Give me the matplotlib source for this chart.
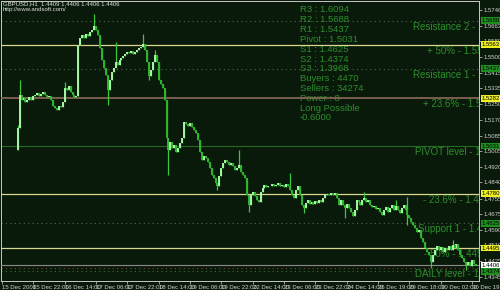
import matplotlib

matplotlib.use("Agg")
import matplotlib.pyplot as plt  # noqa: E402
import matplotlib.transforms as mtransforms  # noqa: E402
import numpy as np  # noqa: E402

# ---- data (GBPUSD H1, 15-30 Dec 2008) ----
FIRST_BAR = 8
FIRST_OPEN = 1.5010
closes = [
    1.5126, 1.5299, 1.5273, 1.5283, 1.5262, 1.5273, 1.5288, 1.5273, 1.5294, 1.5299,
    1.5309, 1.5294, 1.5304, 1.5315, 1.5299, 1.5288, 1.5294, 1.5273, 1.5241, 1.5231,
    1.5220, 1.5241, 1.5236, 1.5262, 1.5336, 1.5325, 1.5346, 1.5315, 1.5299, 1.5288,
    1.5294, 1.5561, 1.5598, 1.5614, 1.5598, 1.5619, 1.5609, 1.5630, 1.5640, 1.5661,
    1.5640, 1.5614, 1.5546, 1.5483, 1.5441, 1.5404, 1.5325, 1.5378, 1.5420, 1.5441,
    1.5472, 1.5456, 1.5483, 1.5493, 1.5504, 1.5514, 1.5525, 1.5519, 1.5530, 1.5514,
    1.5525, 1.5535, 1.5546, 1.5551, 1.5567, 1.5535, 1.5472, 1.5399, 1.5430, 1.5472,
    1.5509, 1.5472, 1.5378, 1.5357, 1.5336, 1.5273, 1.5073, 1.5010, 1.5052, 1.5021,
    1.5036, 1.5000, 1.5021, 1.5047, 1.5073, 1.5157, 1.5147, 1.5136, 1.5152, 1.5131,
    1.5115, 1.5099, 1.5063, 1.5000, 1.4958, 1.4979, 1.4968, 1.4947, 1.4916, 1.4879,
    1.4863, 1.4837, 1.4821, 1.4874, 1.4916, 1.4942, 1.4958, 1.4947, 1.4931, 1.4942,
    1.4926, 1.4905, 1.4916, 1.4931, 1.4895, 1.4879, 1.4863, 1.4774, 1.4721, 1.4774,
    1.4790, 1.4769, 1.4748, 1.4737, 1.4790, 1.4811, 1.4826, 1.4816, 1.4821, 1.4821,
    1.4832, 1.4821, 1.4826, 1.4837, 1.4821, 1.4826, 1.4816, 1.4832, 1.4821, 1.4800,
    1.4774, 1.4758, 1.4800, 1.4821, 1.4774, 1.4721, 1.4706, 1.4732, 1.4748, 1.4727,
    1.4737, 1.4727, 1.4742, 1.4732, 1.4748, 1.4737, 1.4758, 1.4774, 1.4779, 1.4774,
    1.4784, 1.4774, 1.4784, 1.4758, 1.4721, 1.4748, 1.4721, 1.4706, 1.4727, 1.4706,
    1.4685, 1.4664, 1.4695, 1.4748, 1.4737, 1.4721, 1.4748, 1.4758, 1.4737, 1.4748,
    1.4721, 1.4711, 1.4716, 1.4700, 1.4706, 1.4685, 1.4669, 1.4695, 1.4711, 1.4685,
    1.4706, 1.4721, 1.4695, 1.4716, 1.4695, 1.4679, 1.4706, 1.4721, 1.4695, 1.4669,
    1.4653, 1.4632, 1.4616, 1.4601, 1.4580, 1.4590, 1.4548, 1.4527, 1.4496, 1.4475,
    1.4459, 1.4422, 1.4459, 1.4485, 1.4506, 1.4485, 1.4501, 1.4475, 1.4496, 1.4485,
    1.4506, 1.4485, 1.4511, 1.4496, 1.4517, 1.4485, 1.4459, 1.4443, 1.4422, 1.4406,
    1.4422, 1.4401, 1.4433, 1.4412, 1.4406,
]
# wick extremes for the bars that stick out (bar index: value)
spike_high = {8: 1.5141, 9: 1.5378, 32: 1.5367, 47: 1.5724, 58: 1.5577, 72: 1.5619,
              78: 1.5535, 121: 1.5010, 147: 1.4889, 185: 1.4790, 201: 1.4748,
              207: 1.4763, 230: 1.4538}
spike_low = {54: 1.5246, 75: 1.5378, 85: 1.4879, 110: 1.4800, 126: 1.4685,
             154: 1.4679, 175: 1.4653, 207: 1.4616, 219: 1.4391, 237: 1.4380}

x_tick_bars = list(range(0, 241, 16))
x_tick_labels = ["15 Dec 2008", "15 Dec 22:00", "16 Dec 14:00", "17 Dec 06:00",
                 "17 Dec 22:00", "18 Dec 14:00", "19 Dec 06:00", "19 Dec 22:00",
                 "22 Dec 14:00", "23 Dec 06:00", "23 Dec 22:00", "24 Dec 14:00",
                 "26 Dec 19:00", "29 Dec 18:00", "30 Dec 02:00", "30 Dec 19:00"]
price_ticks = [1.5746, 1.5663, 1.5580, 1.5500, 1.5415, 1.5335, 1.5250, 1.5170, 1.5085,
               1.5005, 1.4920, 1.4840, 1.4755, 1.4675, 1.4590, 1.4510, 1.4425, 1.4345]

pivots = {"R3": 1.6094, "R2": 1.5688, "R1": 1.5437, "Pivot": 1.5031,
          "S1": 1.4625, "S2": 1.4374, "S3": 1.3968}
fib_plus50 = 1.5563
fib_plus236 = 1.5282
fib_minus236 = 1.4780
fib_minus50 = 1.4495
daily_level = 1.4388
last_price = 1.4406
buyers = 4470
sellers = 34274
power = 8
signal = "Long Possible"
signal_value = -0.6

BG = "#0a1a0a"
TXT_GREEN = "#2c8e2c"

fig = plt.figure(figsize=(5, 2.9), dpi=100, facecolor=BG)
W, H = 500, 290
ax = fig.add_axes([1 / W, 9 / H, 478 / W, 280 / H], facecolor=BG)
ax.set_xlim(-0.5, 243.5)
ax.set_ylim(1.43223, 1.57922)


def px(x, y):
    return x / W, 1 - y / H


# candles
idx = np.arange(FIRST_BAR, FIRST_BAR + len(closes))
c = np.array(closes)
o = np.concatenate([[FIRST_OPEN], c[:-1]])
hi = np.maximum(o, c)
lo = np.minimum(o, c)
for b, v in spike_high.items():
    hi[b - FIRST_BAR] = max(hi[b - FIRST_BAR], v)
for b, v in spike_low.items():
    lo[b - FIRST_BAR] = min(lo[b - FIRST_BAR], v)
up = c >= o
ax.vlines(idx, lo, hi, color="#3cc83c", lw=0.9, zorder=4)
ax.vlines(idx[up], o[up], c[up], color="#a8f5a8", lw=1.4, zorder=5)
ax.vlines(idx[~up], c[~up], o[~up], color="#2fb52f", lw=1.4, zorder=5)

# level lines
dot = (0, (1, 3))
ax.axhline(pivots["R2"], color="#4d6a4d", lw=0.8, ls=dot, zorder=2)
ax.axhline(pivots["R1"], color="#4d6a4d", lw=0.8, ls=dot, zorder=2)
ax.axhline(pivots["S1"], color="#4d6a4d", lw=0.8, ls=dot, zorder=2)
ax.axhline(pivots["S2"], color="#3d6a3d", lw=0.8, ls=dot, zorder=2)
ax.axhline(daily_level, color="#7a3a3a", lw=0.8, ls=dot, zorder=2)
ax.axhline(pivots["Pivot"], color="#266a26", lw=0.8, zorder=2)
for lvl in (fib_plus50, fib_minus236, fib_minus50):
    ax.axhline(lvl, color="#d8d890", lw=0.9, zorder=3)
ax.axhline(fib_plus236, color="#8c6a58", lw=1.2, zorder=3)
ax.axhline(last_price, color="#8a8a8a", lw=0.8, zorder=3)

# info block
info = [f"R3 : {pivots['R3']:.4f}", f"R2 : {pivots['R2']:.4f}", f"R1 : {pivots['R1']:.4f}",
        f"Pivot : {pivots['Pivot']:.4f}", f"S1 : {pivots['S1']:.4f}",
        f"S2 : {pivots['S2']:.4f}", f"S3 : {pivots['S3']:.4f}", f"Buyers : {buyers}",
        f"Sellers : {sellers}", f"Power : {power}", signal, f"{signal_value:.4f}"]
for k, s in enumerate(info):
    ax.text(*px(300, 10 + 9.8 * k), s, transform=fig.transFigure, color=TXT_GREEN,
            fontsize=6.8, family="Liberation Sans", va="center", ha="left", zorder=1)

# level labels, cut off by the price scale
line_labels = [
    (f"Resistance 2 - {pivots['R2']:.4f}", pivots["R2"], 413),
    (f"+ 50% - {fib_plus50:.4f}", fib_plus50, 427),
    (f"Resistance 1 - {pivots['R1']:.4f}", pivots["R1"], 413),
    (f"+ 23.6% - {fib_plus236:.4f}", fib_plus236, 423),
    (f"PIVOT level - {pivots['Pivot']:.4f}", pivots["Pivot"], 415),
    (f"- 23.6% - {fib_minus236:.4f}", fib_minus236, 423),
    (f"Support 1 - {pivots['S1']:.4f}", pivots["S1"], 418),
    (f"- 50% - {fib_minus50:.4f}", fib_minus50, 424),
    (f"DAILY level - {daily_level:.4f}", daily_level, 415),
]
lab_tr = mtransforms.blended_transform_factory(fig.transFigure, ax.transData)
shift = mtransforms.ScaledTranslation(0, -6 / 100, fig.dpi_scale_trans)
for s, lvl, xp in line_labels:
    ax.text(xp / W, lvl, s, transform=lab_tr + shift,
            color=TXT_GREEN, fontsize=7, family="Liberation Sans",
            va="center", ha="left", clip_on=True, zorder=3)

# price scale
ax.yaxis.tick_right()
ax.set_yticks(price_ticks)
ax.set_yticklabels([f"{p:.4f}" for p in price_ticks])
ax.tick_params(axis="y", colors="#d0d0d0", labelsize=4.3, length=2, width=0.5, pad=1)
ax.set_xticks(x_tick_bars)
ax.set_xticklabels(x_tick_labels, ha="left")
ax.tick_params(axis="x", colors="#d0d0d0", labelsize=4.3, length=2, width=0.5, pad=1)
for lab in ax.get_xticklabels() + ax.get_yticklabels():
    lab.set_family("Liberation Sans")
for sp in ax.spines.values():
    sp.set_color("#c8c8c8")
    sp.set_linewidth(0.7)

# price boxes on the scale
boxes = [(pivots["R2"], "#1f8f1f"), (fib_plus50, "#f0f020"), (pivots["R1"], "#1f8f1f"),
         (fib_plus236, "#f0f020"), (pivots["Pivot"], "#1f8f1f"), (fib_minus236, "#f0f020"),
         (pivots["S1"], "#1f8f1f"), (fib_minus50, "#f0f020"), (pivots["S2"], "#1f8f1f"),
         (last_price, "#ffffff")]
for lvl, col in boxes:
    fig.text(482 / W, lvl, f"{lvl:.4f}", transform=lab_tr, fontsize=4.3,
             family="Liberation Sans", color="#000000", va="center", ha="left",
             bbox=dict(boxstyle="square,pad=0.15", fc=col, ec="none"))

# header
fig.text(*px(3, 4), "GBPUSD,H1  1.4409 1.4406 1.4406 1.4406", fontsize=4.3,
         family="Liberation Sans", color="#e0e0e0", va="center")
fig.text(*px(3, 10), "http://www.andsoft.com/", fontsize=4.3,
         family="Liberation Sans", color="#e0e0e0", va="center")

fig.savefig("out.png", dpi=100, facecolor=BG)
